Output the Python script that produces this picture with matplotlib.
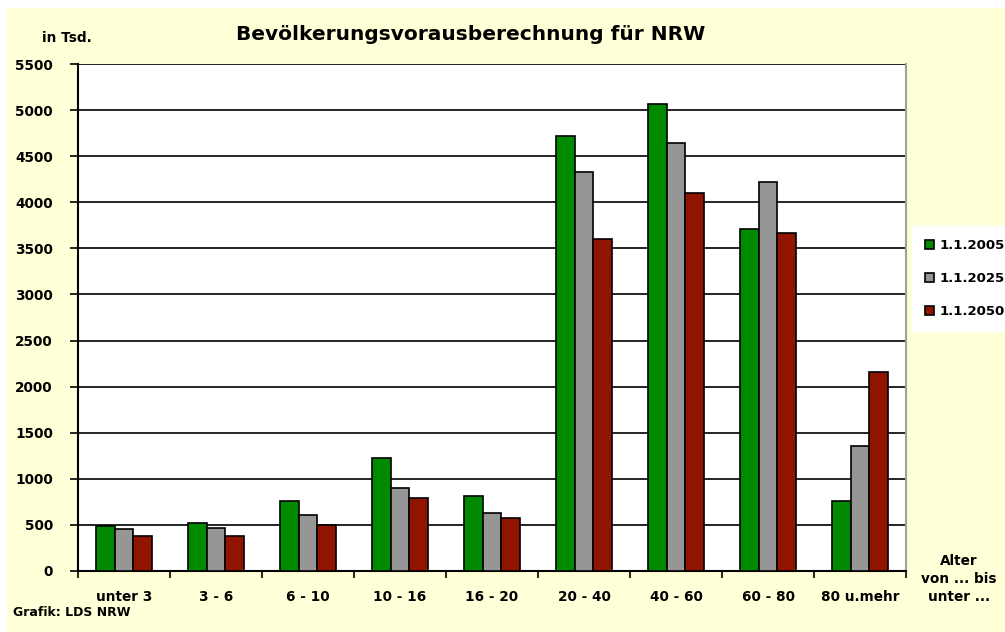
"""
    Bevoelkerungsvorausberechnung NRW - grouped bar chart
"""

import numpy as np
import matplotlib
import matplotlib.pyplot as plt
from matplotlib.patches import Rectangle

matplotlib.use('agg')

# data (in Tsd.)
categories = ['unter 3', '3 - 6', '6 - 10', '10 - 16', '16 - 20',
              '20 - 40', '40 - 60', '60 - 80', '80 u.mehr']
val2005 = [488, 521, 759, 1226, 810, 4722, 5066, 3707, 756]
val2025 = [452, 470, 611, 904, 632, 4328, 4640, 4216, 1356]
val2050 = [376, 376, 499, 795, 575, 3598, 4104, 3670, 2155]
seriesLabels = ['1.1.2005', '1.1.2025', '1.1.2050']
yTicks = list(range(0, 5501, 500))

colors = ['#008a00', '#969696', '#901400']
bgColor = '#ffffd8'
W, H = 1005, 632

fig = plt.figure(figsize=(W / 100, H / 100), dpi=100, facecolor='white')
# yellow chart area with thin white margin at top and left
fig.patches.append(Rectangle((7 / W, -0.05), 1.1, 1.05 - 8 / H,
                             transform=fig.transFigure, facecolor=bgColor,
                             edgecolor='none', zorder=-10))

ax = fig.add_axes([78 / W, 1 - 571 / H, 828 / W, 507 / H])
ax.set_facecolor('white')

x = np.arange(len(categories))
barW = 0.2
handles = []
for k, vals in enumerate([val2005, val2025, val2050]):
    b = ax.bar(x + (k - 1) * barW, vals, barW, color=colors[k],
               edgecolor='black', linewidth=1.2, zorder=3,
               label=seriesLabels[k])
    handles.append(b)

ax.set_xlim(-0.5, len(categories) - 0.5)
ax.set_ylim(0, 5500)
ax.set_yticks(yTicks)
ax.set_yticklabels([str(t) for t in yTicks], fontweight='bold', fontsize=9.8)
ax.yaxis.grid(True, color='black', linewidth=1.2, zorder=1)
ax.set_axisbelow(True)

# x ticks at group boundaries, labels centered below groups
ax.set_xticks(np.arange(len(categories) + 1) - 0.5)
ax.set_xticklabels([])
ax.set_xticks(x, minor=True)
ax.set_xticklabels(categories, minor=True, fontweight='bold', fontsize=9.8)
ax.tick_params(axis='x', which='minor', length=0, pad=14)
ax.tick_params(axis='x', which='major', length=5, width=1.2, direction='out')
ax.tick_params(axis='y', length=6, width=1.2, direction='out', pad=12)

ax.spines['left'].set_linewidth(1.5)
ax.spines['bottom'].set_linewidth(1.5)
ax.spines['top'].set_visible(False)
ax.spines['right'].set_color('#a0a0a0')
ax.spines['right'].set_linewidth(1.5)

fig.text(471 / W, 1 - 35 / H, 'Bevölkerungsvorausberechnung für NRW',
         ha='center', va='center', fontsize=14.5, fontweight='bold',
         color='black')
fig.text(42 / W, 1 - 38 / H, 'in Tsd.', ha='left', va='center',
         fontsize=9.8, fontweight='bold')
fig.text(13 / W, 1 - 613 / H, 'Grafik: LDS NRW', ha='left', va='center',
         fontsize=9, fontweight='bold')
fig.text(959 / W, 1 - 579 / H, 'Alter\nvon ... bis\nunter ...',
         ha='center', va='center', fontsize=9.8, fontweight='bold',
         linespacing=1.35)

leg = fig.legend(handles=handles, loc='upper left',
                 bbox_to_anchor=(912 / W, 1 - 226 / H),
                 prop={'weight': 'bold', 'size': 9.5},
                 handlelength=0.7, handleheight=0.7, handletextpad=0.4,
                 labelspacing=1.5, borderpad=1.0, borderaxespad=0,
                 fancybox=False, framealpha=1, facecolor='white',
                 edgecolor='white')

fig.savefig('out.png', dpi=100, facecolor='white')
